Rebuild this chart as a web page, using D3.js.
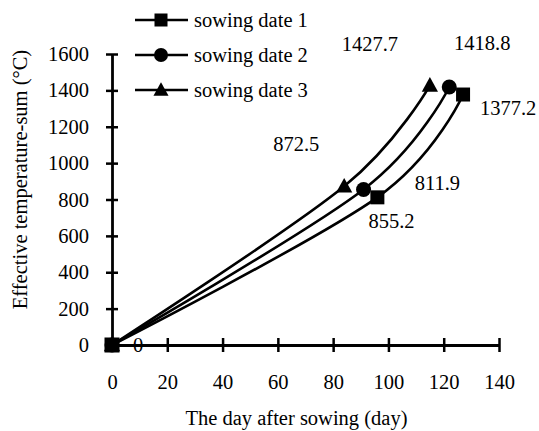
<!DOCTYPE html>
<html>
<head>
<meta charset="utf-8">
<script src="https://cdn.jsdelivr.net/npm/d3@7"></script>
<style>
  html, body { margin: 0; padding: 0; background: #fff; }
  svg { display: block; }
</style>
</head>
<body>
<svg id="chart" width="539" height="431"></svg>
<script>
// ---- data ----
const seriesNames = ["sowing date 1", "sowing date 2", "sowing date 3"];
const seriesShapes = ["square", "circle", "triangle"];
const days1 = [0, 96, 127];
const temps1 = [0, 811.9, 1377.2];
const days2 = [0, 91, 122];
const temps2 = [0, 855.2, 1418.8];
const days3 = [0, 84, 115];
const temps3 = [0, 872.5, 1427.7];
const xTicks = [0, 20, 40, 60, 80, 100, 120, 140];
const yTicks = [0, 200, 400, 600, 800, 1000, 1200, 1400, 1600];
const xTitle = "The day after sowing (day)";
const yTitle = "Effective temperature-sum (°C)";
// data labels: [series index, point index, text]
const dataLabels = [
  [0, 0, "0"],
  [2, 1, "872.5"],
  [0, 1, "811.9"],
  [1, 1, "855.2"],
  [2, 2, "1427.7"],
  [1, 2, "1418.8"],
  [0, 2, "1377.2"]
];
// label pixel offsets (style)
const labelOffsets = [
  [26, 0], [-48, -42], [60, -15], [28, 31], [-60, -42], [33, -44], [45, 13]
];

const series = [
  {name: seriesNames[0], shape: seriesShapes[0], pts: days1.map((d, i) => [d, temps1[i]])},
  {name: seriesNames[1], shape: seriesShapes[1], pts: days2.map((d, i) => [d, temps2[i]])},
  {name: seriesNames[2], shape: seriesShapes[2], pts: days3.map((d, i) => [d, temps3[i]])}
];

const svg = d3.select("#chart");
const fs = 20.5;
const mLeft = 112, mRight = 499, mTop = 54, mBottom = 345;

const x = d3.scaleLinear().domain([0, 140]).range([mLeft, mRight]);
const y = d3.scaleLinear().domain([0, 1600]).range([mBottom, mTop]);

function marker(sel, shape, size) {
  if (shape === "square") {
    sel.append("rect").attr("x", -size / 2).attr("y", -size / 2)
      .attr("width", size).attr("height", size).attr("fill", "#000");
  } else if (shape === "circle") {
    sel.append("circle").attr("r", size / 2 + 0.5).attr("fill", "#000");
  } else {
    const h = size * 1.0;
    sel.append("path").attr("d", `M0,${-h * 0.6} L${size * 0.58},${h * 0.45} L${-size * 0.58},${h * 0.45} Z`)
      .attr("fill", "#000");
  }
}

// axes
const xAxis = d3.axisBottom(x).tickValues(xTicks).tickFormat(d3.format("d"))
  .tickSizeInner(7).tickSizeOuter(0).tickPadding(22);
const gx = svg.append("g").attr("transform", `translate(0,${mBottom})`).call(xAxis);
gx.attr("font-family", null).attr("font-size", null);
gx.select(".domain").attr("stroke", "#000").attr("stroke-width", 2.8);
gx.selectAll(".tick line").attr("stroke", "#000").attr("stroke-width", 2.5).attr("y1", -7);
gx.selectAll(".tick text").attr("dy", "0.71em");

const yAxis = d3.axisLeft(y).tickValues(yTicks).tickFormat(d3.format("d"))
  .tickSizeInner(6).tickSizeOuter(0).tickPadding(17);
const gy = svg.append("g").attr("transform", `translate(${mLeft},0)`).call(yAxis);
gy.attr("font-family", null).attr("font-size", null);
gy.select(".domain").attr("stroke", "#000").attr("stroke-width", 2.8);
gy.selectAll(".tick line").attr("stroke", "#000").attr("stroke-width", 2.5).attr("x2", 6).attr("x1", -6);

// lines
const line = d3.line().x(d => x(d[0])).y(d => y(d[1])).curve(d3.curveCardinal.tension(0));
series.forEach(s => {
  svg.append("path").datum(s.pts).attr("d", line)
    .attr("fill", "none").attr("stroke", "#000").attr("stroke-width", 2.6);
});
// markers
series.forEach(s => {
  s.pts.forEach(p => {
    const g = svg.append("g").attr("transform", `translate(${x(p[0])},${y(p[1])})`);
    marker(g, s.shape, 14);
  });
});
// ensure origin square drawn on top
{
  const p = series[0].pts[0];
  const g = svg.append("g").attr("transform", `translate(${x(p[0])},${y(p[1])})`);
  marker(g, "square", 15);
}

// data labels
dataLabels.forEach((l, i) => {
  const p = series[l[0]].pts[l[1]];
  svg.append("text")
    .attr("x", x(p[0]) + labelOffsets[i][0])
    .attr("y", y(p[1]) + labelOffsets[i][1])
    .attr("text-anchor", "middle").attr("dy", "0.35em")
    .text(l[2]);
});

// legend
const legendRows = [20, 55, 90];
series.forEach((s, i) => {
  const g = svg.append("g").attr("transform", `translate(0,${legendRows[i]})`);
  g.append("line").attr("x1", 135).attr("x2", 188).attr("y1", 0).attr("y2", 0)
    .attr("stroke", "#000").attr("stroke-width", 2.6);
  const mg = g.append("g").attr("transform", "translate(161,0)");
  marker(mg, s.shape, 13);
  g.append("text").attr("x", 194).attr("y", 0).attr("dy", "0.35em")
    .text(s.name);
});

// axis titles
svg.append("text").attr("x", (mLeft + mRight) / 2 - 9).attr("y", 418)
  .attr("text-anchor", "middle").attr("dy", "0.35em")
  .text(xTitle);
svg.append("text").attr("transform", `translate(20,${(mTop + mBottom) / 2 - 20}) rotate(-90)`)
  .attr("text-anchor", "middle").attr("dy", "0.35em")
  .text(yTitle);

// apply font to every text
svg.selectAll("text")
  .style("font-family", '"Liberation Serif"')
  .attr("font-size", fs)
  .attr("fill", "#000");
</script>
</body>
</html>
